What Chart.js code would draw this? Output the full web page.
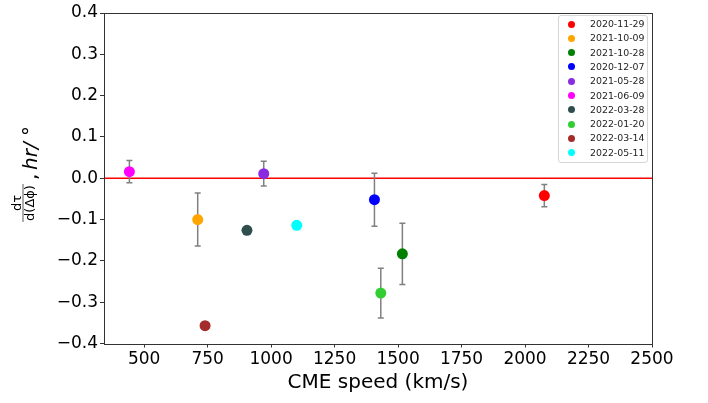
<!DOCTYPE html>
<html lang="en">
<head>
  <meta charset="UTF-8">
  <title>CME speed vs d&tau;/d(&Delta;&phi;)</title>
  <script src="https://cdn.jsdelivr.net/npm/chart.js@4"></script>
  <style>
    body { margin: 0; background: #fff; }
    #wrap { position: relative; width: 708px; height: 403px; }
    #legend {
      position: absolute; left: 558px; top: 15px; width: 88px; height: 146px;
      border: 1px solid #d6d6d6; border-radius: 3px; background: rgba(255,255,255,0.85);
      font-family: 'DejaVu Sans', sans-serif; font-size: 9.4px; color: #222;
    }
    .row { position: absolute; left: 0; height: 12px; line-height: 12px; }
    .dot { position: absolute; left: 9px; top: 2.5px; width: 7px; height: 7px; border-radius: 50%; }
    .lab { position: absolute; left: 31px; top: 0; white-space: nowrap; }
  </style>
</head>
<body>
  <div id="wrap">
    <canvas id="chart" width="708" height="403"></canvas>
    <div id="legend"></div>
  </div>
  <script>
    const dates  = ['2020-11-29', '2021-10-09', '2021-10-28', '2020-12-07', '2021-05-28',
                    '2021-06-09', '2022-03-28', '2022-01-20', '2022-03-14', '2022-05-11'];
    const colors = ['red', 'orange', 'green', 'blue', 'blueviolet',
                    'magenta', 'darkslategray', 'limegreen', 'brown', 'cyan'];
    const speeds = [2076, 711, 1517, 1407, 971, 442, 905, 1432, 740, 1101];
    const slopes = [-0.042, -0.100, -0.183, -0.052, 0.011, 0.016, -0.126, -0.278, -0.357, -0.114];
    const errs   = [0.027, 0.064, 0.074, 0.064, 0.030, 0.027, null, 0.060, null, null];
    const xTicks = [500, 750, 1000, 1250, 1500, 1750, 2000, 2250, 2500];
    const yTicks = [-0.4, -0.3, -0.2, -0.1, 0.0, 0.1, 0.2, 0.3, 0.4];

    // legend (html, sits inside the plot at top right)
    const leg = document.getElementById('legend');
    dates.forEach((d, i) => {
      const row = document.createElement('div');
      row.className = 'row';
      row.style.top = (2 + i * 14.3) + 'px';
      row.style.width = '88px';
      row.innerHTML = `<span class="dot" style="background:${colors[i]}"></span><span class="lab">${d}</span>`;
      leg.appendChild(row);
    });

    const extras = {
      id: 'extras',
      beforeDatasetsDraw(chart) {
        const { ctx, chartArea: a, scales: { x, y } } = chart;
        ctx.save();
        // zero line
        const y0 = y.getPixelForValue(0);
        ctx.strokeStyle = 'red';
        ctx.lineWidth = 1.5;
        ctx.beginPath(); ctx.moveTo(a.left, y0); ctx.lineTo(a.right, y0); ctx.stroke();
        // error bars
        ctx.strokeStyle = '#808080';
        ctx.lineWidth = 1.5;
        speeds.forEach((s, i) => {
          if (errs[i] == null) return;
          const px = x.getPixelForValue(s);
          const top = y.getPixelForValue(slopes[i] + errs[i]);
          const bot = y.getPixelForValue(slopes[i] - errs[i]);
          ctx.beginPath();
          ctx.moveTo(px, top); ctx.lineTo(px, bot);
          ctx.moveTo(px - 3, top); ctx.lineTo(px + 3, top);
          ctx.moveTo(px - 3, bot); ctx.lineTo(px + 3, bot);
          ctx.stroke();
        });
        ctx.restore();
      },
      afterDraw(chart) {
        const { ctx, chartArea: a } = chart;
        ctx.save();
        ctx.strokeStyle = '#333';
        ctx.lineWidth = 1;
        ctx.strokeRect(Math.round(a.left) + 0.5, Math.round(a.top) + 0.5,
                       Math.round(a.right - a.left), Math.round(a.bottom - a.top));
        // y axis title: fraction d tau / d(delta phi), hr/ deg
        ctx.translate(28, 175);
        ctx.rotate(-Math.PI / 2);
        ctx.fillStyle = '#000';
        ctx.textBaseline = 'alphabetic';
        ctx.textAlign = 'center';
        ctx.font = '13px "DejaVu Sans"';
        ctx.fillText('d\u03C4', -28, -7);
        ctx.fillText('d(\u0394\u03D5)', -28, 6);
        ctx.lineWidth = 0.8;
        ctx.beginPath(); ctx.moveTo(-47, -5); ctx.lineTo(-9, -5); ctx.stroke();
        ctx.textAlign = 'left';
        ctx.font = '20px "DejaVu Sans"';
        ctx.fillText(',', -5, 9);
        ctx.font = 'italic 20px "DejaVu Sans"';
        ctx.fillText('hr/ \u00B0', 5, 9);
        ctx.restore();
      }
    };

    const tickFont = { family: 'DejaVu Sans', size: 17 };

    new Chart(document.getElementById('chart'), {
      type: 'scatter',
      data: {
        datasets: dates.map((d, i) => ({
          label: d,
          data: [{ x: speeds[i], y: slopes[i] }],
          backgroundColor: colors[i],
          borderWidth: 0,
          pointRadius: 5.5,
          pointHoverRadius: 5.5
        }))
      },
      options: {
        responsive: false,
        animation: false,
        devicePixelRatio: 1,
        layout: { padding: { top: 13, right: 56, bottom: 0, left: 0 } },
        plugins: { legend: { display: false }, tooltip: { enabled: false } },
        scales: {
          x: {
            type: 'linear', min: 342, max: 2500,
            afterBuildTicks: s => { s.ticks = xTicks.map(v => ({ value: v })); },
            afterFit: s => { s.height = 59.5; },
            ticks: { font: tickFont, color: '#000', padding: 2, maxRotation: 0,
                     callback: v => String(v) },
            grid: { drawOnChartArea: false, tickLength: 4, color: '#333' },
            border: { display: false },
            title: { display: true, text: 'CME speed (km/s)', color: '#000',
                     font: { family: 'DejaVu Sans', size: 20 }, padding: { top: 0, bottom: 8 } }
          },
          y: {
            type: 'linear', min: -0.4, max: 0.4,
            afterBuildTicks: s => { s.ticks = yTicks.map(v => ({ value: v })); },
            afterFit: s => { s.width = 104; },
            ticks: {
              font: tickFont, color: '#000', padding: 2,
              callback: v => (v < -1e-9 ? '\u2212' + Math.abs(v).toFixed(1) : Math.abs(v).toFixed(1))
            },
            grid: { drawOnChartArea: false, tickLength: 4, color: '#333' },
            border: { display: false }
          }
        }
      },
      plugins: [extras]
    });
  </script>
</body>
</html>
